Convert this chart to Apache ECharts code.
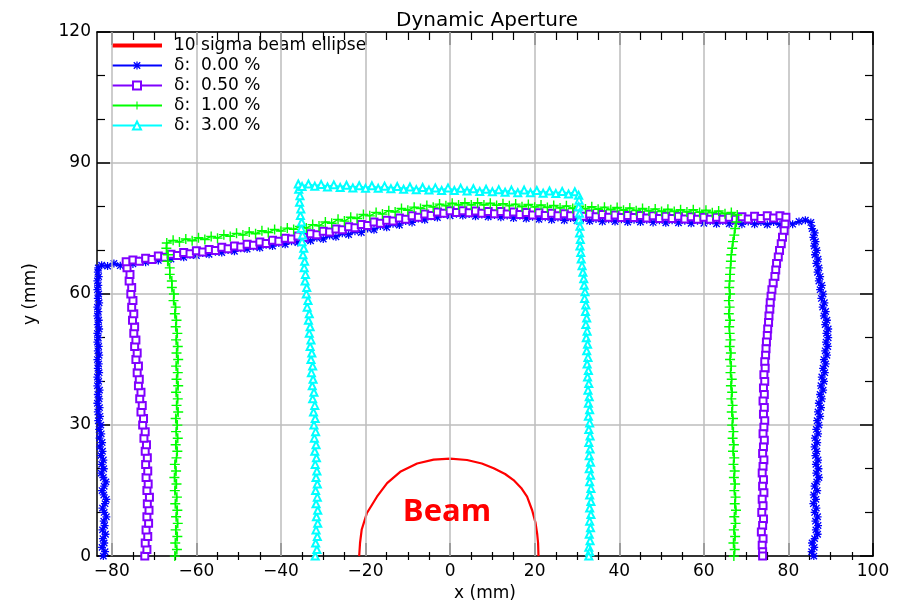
<!DOCTYPE html>
<html>
<head>
<meta charset="utf-8">
<script src="https://cdn.jsdelivr.net/npm/echarts@6/dist/echarts.min.js"></script>
<style>html,body{margin:0;padding:0;background:#fff}#c{width:897px;height:607px}</style>
</head>
<body>
<div id="c"></div>
<script>
const xMajor = [-80,-60,-40,-20,0,20,40,60,80,100];
const xGrid = [-80,-60,-40,-20,0,20,40,60,80];
const xMinor = [-75,-70,-65,-55,-50,-45,-35,-30,-25,-15,-10,-5,5,10,15,25,30,35,45,50,55,65,70,75,85,90,95];
const seriesNames = ['10 sigma beam ellipse','δ:  0.00 %','δ:  0.50 %','δ:  1.00 %','δ:  3.00 %'];

const beamEllipse = [[-21.5,0],[-21.3,3],[-20.9,6.1],[-19.7,9.8],[-17.3,13.6],[-14.9,16.7],[-11.8,19.3],[-7.8,21.2],[-3.9,22.1],[0,22.3],[4,22],[7.5,21.2],[10.3,20.1],[13,18.8],[15,17.4],[16.8,15.6],[18.2,13.6],[19.4,10.5],[20.2,7.6],[20.6,5],[20.8,3],[20.9,0]];

const delta000 = [
[-82.0,0],[-81.6,1],[-82.3,2],[-81.8,3],[-82.1,4],[-81.5,5],[-82.2,6],[-81.7,7],[-81.9,8],[-81.3,9],[-81.8,10],[-82.2,11],[-81.6,12],[-81.3,13],[-81.9,14],[-82.3,15],[-81.8,16],[-81.4,17],[-82.0,18],[-82.5,19],[-81.9,20],[-82.4,21],[-82.0,22],[-82.6,23],[-82.2,24],[-82.8,25],[-82.3,26],[-82.9,27],[-82.5,28],[-83.0,29],[-82.6,30],[-83.2,31],[-82.8,32],[-83.3,33],[-82.9,34],[-83.4,35],[-83.0,36],[-83.3,37],[-82.9,38],[-83.4,39],[-83.1,40],[-83.4,41],[-83.0,42],[-83.3,43],[-83.1,44],[-83.4,45],[-83.0,46],[-83.3,47],[-83.1,48],[-83.4,49],[-83.2,50],[-83.4,51],[-83.0,52],[-83.3,53],[-83.1,54],[-83.4,55],[-83.2,56],[-83.4,57],[-83.0,58],[-83.3,59],[-83.1,60],[-83.4,61],[-83.2,62],[-83.4,63],[-83.1,64],[-83.3,65],[-83.2,66],[-82.4,66.6],
[-81,66.4],[-79.5,67.0],[-78,66.5],[-76.5,67.2],[-75,66.9],[-73.5,67.6],[-72,67.3],[-70.5,67.9],[-69,67.7],[-67.5,68.3],[-66,68.0],[-64.5,68.7],[-63,68.4],[-61.5,69.0],[-60,68.8],[-58.5,69.4],[-57,69.1],[-55.5,69.7],[-54,69.5],[-52.5,70.1],[-51,69.8],[-49.5,70.5],[-48,70.3],[-46.5,70.9],[-45,70.6],[-43.5,71.3],[-42,71.0],[-40.5,71.7],[-39,71.4],[-37.5,72.1],[-36,71.8],[-34.5,72.5],[-33,72.2],[-31.5,72.9],[-30,72.6],[-28.5,73.4],[-27,73.1],[-25.5,73.9],[-24,73.6],[-22.5,74.4],[-21,74.1],[-19.5,75.0],[-18,74.7],[-16.5,75.6],[-15,75.3],[-13.5,76.1],[-12,75.8],[-10.5,76.7],[-9,76.4],[-7.5,77.3],[-6,77.0],[-4.5,77.8],[-3,77.5],[-1.5,78.3],[0,77.9],[1.5,78.4],[3,78.0],[4.5,78.3],[6,77.8],[7.5,78.2],[9,77.7],[10.5,78.1],[12,77.6],[13.5,78.0],[15,77.4],[16.5,77.9],[18,77.3],[19.5,77.7],[21,77.1],[22.5,77.6],[24,77.0],[25.5,77.5],[27,76.9],[28.5,77.4],[30,76.8],[31.5,77.3],[33,76.7],[34.5,77.2],[36,76.6],[37.5,77.1],[39,76.6],[40.5,77.1],[42,76.5],[43.5,77.0],[45,76.5],[46.5,77.0],[48,76.4],[49.5,76.9],[51,76.3],[52.5,76.9],[54,76.3],[55.5,76.8],[57,76.2],[58.5,76.8],[60,76.2],[61.5,76.7],[63,76.1],[64.5,76.7],[66,76.1],[67.5,76.6],[69,76.0],[70.5,76.6],[72,76.0],[73.5,76.5],[75,75.9],[76.5,76.5],[78,75.9],[79.5,76.4],[81,76.0],[82.5,76.6],[84,76.9],[85.3,76.4],
[85.6,75],[86.2,74],[85.9,73],[86.4,72],[86.1,71],[86.7,70],[86.3,69],[87.0,68],[86.6,67],[87.2,66],[86.9,65],[87.5,64],[87.2,63],[87.9,62],[87.5,61],[88.2,60],[87.8,59],[88.5,58],[88.1,57],[88.8,56],[88.4,55],[89.1,54],[88.7,53],[89.4,52],[89.0,51],[89.4,50],[88.9,49],[89.3,48],[88.7,47],[89.1,46],[88.4,45],[88.8,44],[88.2,43],[88.6,42],[87.9,41],[88.4,40],[87.7,39],[88.2,38],[87.5,37],[87.9,36],[87.2,35],[87.7,34],[87.0,33],[87.5,32],[86.8,31],[87.2,30],[86.6,29],[87.0,28],[86.3,27],[86.8,26],[86.2,25],[86.7,24],[86.4,23],[87.0,22],[86.5,21],[87.1,20],[86.6,19],[87.2,18],[86.7,17],[86.2,16],[86.8,15],[86.0,14],[86.5,13],[85.9,12],[86.6,11],[86.2,10],[86.9,9],[86.4,8],[87.0,7],[86.5,6],[86.9,5],[86.2,4],[85.6,3],[86.1,2],[85.5,1],[86.0,0]
];

const delta050 = [
[-72.2,0],[-71.7,1.5],[-72.1,3],[-71.5,4.5],[-71.9,6],[-71.3,7.5],[-71.7,9],[-71.2,10.5],[-71.6,12],[-71.1,13.5],[-71.7,15],[-71.4,16.5],[-71.9,18],[-71.5,19.5],[-72.0,21],[-71.6,22.5],[-72.1,24],[-71.8,25.5],[-72.4,27],[-72.1,28.5],[-72.7,30],[-72.5,31.5],[-73.1,33],[-72.8,34.5],[-73.4,36],[-73.1,37.5],[-73.7,39],[-73.5,40.5],[-74.0,42],[-73.7,43.5],[-74.3,45],[-74.0,46.5],[-74.6,48],[-74.3,49.5],[-74.8,51],[-74.6,52.5],[-75.1,54],[-74.8,55.5],[-75.3,57],[-75.0,58.5],[-75.5,60],[-75.3,61.5],[-75.9,63],[-75.7,64.5],[-76.4,66],[-76.6,67.4],
[-75,67.8],[-73.5,67.5],[-72,68.2],[-70.5,67.9],[-69,68.7],[-67.5,68.4],[-66,69.1],[-64.5,68.8],[-63,69.5],[-61.5,69.2],[-60,69.9],[-58.5,69.6],[-57,70.2],[-55.5,70.0],[-54,70.7],[-52.5,70.4],[-51,71.0],[-49.5,70.8],[-48,71.4],[-46.5,71.2],[-45,71.9],[-43.5,71.6],[-42,72.3],[-40.5,72.1],[-39,72.8],[-37.5,72.6],[-36,73.3],[-34.5,73.0],[-33,73.8],[-31.5,73.6],[-30,74.4],[-28.5,74.2],[-27,74.9],[-25.5,74.7],[-24,75.4],[-22.5,75.2],[-21,75.9],[-19.5,75.7],[-18,76.5],[-16.5,76.2],[-15,76.9],[-13.5,76.7],[-12,77.4],[-10.5,77.1],[-9,77.9],[-7.5,77.6],[-6,78.3],[-4.5,78.0],[-3,78.8],[-1.5,78.5],[0,79.1],[1.5,78.7],[3,79.1],[4.5,78.6],[6,79.0],[7.5,78.5],[9,78.9],[10.5,78.4],[12,78.9],[13.5,78.3],[15,78.8],[16.5,78.2],[18,78.7],[19.5,78.1],[21,78.6],[22.5,78.0],[24,78.5],[25.5,77.9],[27,78.4],[28.5,77.9],[30,78.4],[31.5,77.8],[33,78.3],[34.5,77.7],[36,78.2],[37.5,77.6],[39,78.1],[40.5,77.5],[42,78.0],[43.5,77.5],[45,78.0],[46.5,77.4],[48,77.9],[49.5,77.3],[51,77.8],[52.5,77.3],[54,77.8],[55.5,77.2],[57,77.7],[58.5,77.1],[60,77.6],[61.5,77.1],[63,77.6],[64.5,77.1],[66,77.6],[67.5,77.1],[69,77.7],[70.5,77.2],[72,77.8],[73.5,77.3],[75,77.9],[76.5,77.4],[78,77.9],[79.4,77.6],
[79.2,76],[79.0,74.5],[78.6,73],[78.3,71.5],[77.9,70],[77.6,68.5],[77.2,67],[77.0,65.5],[76.8,64],[76.4,62.5],[76.1,61],[75.9,59.5],[75.7,58],[75.6,56.5],[75.4,55],[75.3,53.5],[75.1,52],[75.0,50.5],[74.8,49],[74.7,47.5],[74.6,46],[74.4,44.5],[74.5,43],[74.2,41.5],[74.4,40],[74.1,38.5],[74.3,37],[74.0,35.5],[74.3,34],[74.1,32.5],[74.4,31],[74.2,29.5],[74.0,28],[74.3,26.5],[74.1,25],[73.9,23.5],[74.2,22],[74.0,20.5],[73.8,19],[74.1,17.5],[73.9,16],[74.2,14.5],[73.8,13],[74.0,11.5],[73.7,10],[74.1,8.5],[73.9,7],[73.6,5.5],[74.0,4],[73.8,2.5],[73.9,1],[73.9,0]
];

const delta100 = [
[-65.1,0],[-64.6,1.5],[-65.0,3],[-64.5,4.5],[-64.9,6],[-64.4,7.5],[-64.8,9],[-64.5,10.5],[-65.0,12],[-64.6,13.5],[-65.1,15],[-64.7,16.5],[-65.2,18],[-64.8,19.5],[-65.1,21],[-64.7,22.5],[-64.5,24],[-64.9,25.5],[-64.4,27],[-64.8,28.5],[-64.5,30],[-64.9,31.5],[-64.3,33],[-64.7,34.5],[-64.4,36],[-64.8,37.5],[-64.3,39],[-64.7,40.5],[-64.4,42],[-64.8,43.5],[-64.3,45],[-64.7,46.5],[-64.4,48],[-64.8,49.5],[-64.5,51],[-64.9,52.5],[-64.7,54],[-65.1,55.5],[-64.9,57],[-65.4,58.5],[-65.3,60],[-65.8,61.5],[-65.8,63],[-66.3,64.5],[-66.3,66],[-66.8,67.5],[-66.7,69],[-67.1,70.5],[-67.0,71.7],
[-65.5,72.3],[-64,71.9],[-62.5,72.6],[-61,72.2],[-59.5,72.9],[-58,72.5],[-56.5,73.2],[-55,72.8],[-53.5,73.6],[-52,73.2],[-50.5,73.9],[-49,73.5],[-47.5,74.2],[-46,73.8],[-44.5,74.5],[-43,74.1],[-41.5,74.8],[-40,74.4],[-38.5,75.1],[-37,74.8],[-35.5,75.5],[-34,75.1],[-32.5,75.9],[-31,75.6],[-29.5,76.5],[-28,76.2],[-26.5,77.1],[-25,76.7],[-23.5,77.6],[-22,77.3],[-20.5,78.2],[-19,77.9],[-17.5,78.7],[-16,78.3],[-14.5,79.1],[-13,78.8],[-11.5,79.6],[-10,79.2],[-8.5,79.9],[-7,79.6],[-5.5,80.3],[-4,79.9],[-2.5,80.6],[-1,80.2],[0.5,80.8],[2,80.4],[3.5,80.9],[5,80.4],[6.5,80.9],[8,80.4],[9.5,80.8],[11,80.3],[12.5,80.7],[14,80.2],[15.5,80.6],[17,80.0],[18.5,80.5],[20,79.9],[21.5,80.4],[23,79.8],[24.5,80.3],[26,79.7],[27.5,80.2],[29,79.6],[30.5,80.1],[32,79.5],[33.5,80.0],[35,79.4],[36.5,79.9],[38,79.3],[39.5,79.8],[41,79.2],[42.5,79.7],[44,79.1],[45.5,79.6],[47,79.0],[48.5,79.5],[50,78.9],[51.5,79.4],[53,78.9],[54.5,79.3],[56,78.8],[57.5,79.3],[59,78.7],[60.5,79.2],[62,78.6],[63.5,79.0],[65,78.4],[66.5,78.7],[67.9,78.1],
[67.7,76.5],[67.4,75],[67.2,73.5],[66.9,72],[66.7,70.5],[66.5,69],[66.4,67.5],[66.3,66],[66.2,64.5],[66.1,63],[66.0,61.5],[66.2,60],[65.9,58.5],[66.1,57],[65.9,55.5],[66.2,54],[66.0,52.5],[66.1,51],[66.3,49.5],[66.1,48],[66.4,46.5],[66.2,45],[66.5,43.5],[66.3,42],[66.6,40.5],[66.4,39],[66.7,37.5],[66.5,36],[66.8,34.5],[66.6,33],[66.9,31.5],[66.7,30],[67.0,28.5],[66.8,27],[67.1,25.5],[66.9,24],[67.2,22.5],[67.0,21],[67.3,19.5],[67.1,18],[67.4,16.5],[67.2,15],[67.5,13.5],[67.3,12],[67.6,10.5],[67.2,9],[67.5,7.5],[67.1,6],[67.4,4.5],[67.0,3],[67.3,1.5],[67.1,0]
];

const delta300 = [
[-31.9,0],[-31.5,1.5],[-31.8,3],[-31.4,4.5],[-31.7,6],[-31.3,7.5],[-31.6,9],[-31.3,10.5],[-31.7,12],[-31.4,13.5],[-31.8,15],[-31.4,16.5],[-31.7,18],[-31.5,19.5],[-31.9,21],[-31.6,22.5],[-32.0,24],[-31.7,25.5],[-32.1,27],[-31.8,28.5],[-32.2,30],[-31.9,31.5],[-32.3,33],[-32.0,34.5],[-32.5,36],[-32.2,37.5],[-32.6,39],[-32.4,40.5],[-32.8,42],[-32.5,43.5],[-32.9,45],[-32.7,46.5],[-33.1,48],[-32.9,49.5],[-33.3,51],[-33.1,52.5],[-33.5,54],[-33.3,55.5],[-33.8,57],[-33.6,58.5],[-34.0,60],[-33.9,61.5],[-34.3,63],[-34.2,64.5],[-34.5,66],[-34.4,67.5],[-34.8,69],[-34.6,70.5],[-35.0,72],[-34.9,73.5],[-35.2,75],[-35.1,76.5],[-35.4,78],[-35.3,79.5],[-35.6,81],[-35.5,82.5],[-35.8,84],[-35.9,85.2],
[-35,84.6],[-33.5,85.2],[-32,84.7],[-30.5,85.1],[-29,84.5],[-27.5,85.0],[-26,84.4],[-24.5,84.9],[-23,84.3],[-21.5,84.8],[-20,84.2],[-18.5,84.8],[-17,84.2],[-15.5,84.7],[-14,84.1],[-12.5,84.6],[-11,84.0],[-9.5,84.5],[-8,83.9],[-6.5,84.4],[-5,83.8],[-3.5,84.3],[-2,83.7],[-0.5,84.3],[1,83.7],[2.5,84.2],[4,83.6],[5.5,84.1],[7,83.5],[8.5,84.0],[10,83.4],[11.5,83.9],[13,83.3],[14.5,83.8],[16,83.2],[17.5,83.8],[19,83.2],[20.5,83.7],[22,83.1],[23.5,83.6],[25,83.0],[26.5,83.5],[28,82.9],[29.5,83.4],[30.4,82.6],
[30.5,81.5],[30.4,80],[30.6,78.5],[30.5,77],[30.7,75.5],[30.6,74],[30.8,72.5],[30.7,71],[30.9,69.5],[31.0,68],[31.2,66.5],[31.4,65],[31.6,63.5],[31.7,62],[31.9,60.5],[31.8,59],[32.1,57.5],[32.0,56],[32.3,54.5],[32.1,53],[32.4,51.5],[32.2,50],[32.5,48.5],[32.3,47],[32.6,45.5],[32.4,44],[32.7,42.5],[32.5,41],[32.8,39.5],[32.6,38],[32.9,36.5],[32.7,35],[33.0,33.5],[32.7,32],[33.0,30.5],[32.8,29],[33.1,27.5],[32.8,26],[33.1,24.5],[32.9,23],[33.2,21.5],[32.9,20],[33.2,18.5],[33.0,17],[33.3,15.5],[33.0,14],[33.3,12.5],[33.0,11],[33.3,9.5],[33.0,8],[33.2,6.5],[32.9,5],[33.1,3.5],[32.8,2],[33.0,1],[32.8,0]
];

const FONT = 'DejaVu Sans';
const starPath = 'path://M4.2,0H5.8V10H4.2Z M0,4.2H10V5.8H0Z M0.4,1.6L1.6,0.4L9.6,8.4L8.4,9.6Z M8.4,0.4L9.6,1.6L1.6,9.6L0.4,8.4Z';
const plusPath = 'path://M4.3,0H5.7V10H4.3Z M0,4.3H10V5.7H0Z';
const minusFmt = v => String(v).replace('-', '\u2212');

const chart = echarts.init(document.getElementById('c'), null, {renderer: 'canvas'});
const gridBox = {left: 97, right: 24, top: 32, bottom: 47};
const axisLine = {show: true, onZero: false, lineStyle: {color: '#000', width: 1.5}};
const noLine = {show: false, onZero: false};
const majorTick = {show: true, inside: true, length: 13, customValues: xMajor, lineStyle: {color: '#000', width: 1.5}};
const minorTickX = {show: true, inside: true, length: 8, customValues: xMinor, lineStyle: {color: '#000', width: 1.2}};
const yMajorTick = {show: true, inside: true, length: 13, lineStyle: {color: '#000', width: 1.5}};
const yMinorTick = {show: true, splitNumber: 3, length: 8, lineStyle: {color: '#000', width: 1.2}};
const labelStyle = {color: '#000', fontSize: 17, fontFamily: FONT};
const transparent = 'rgba(0,0,0,0)';

chart.setOption({
  animation: false,
  backgroundColor: '#fff',
  title: {text: 'Dynamic Aperture', left: 391, top: 6, textStyle: {fontFamily: FONT, fontSize: 20, fontWeight: 'normal', color: '#000'}},
  grid: [Object.assign({}, gridBox), Object.assign({}, gridBox)],
  legend: {
    data: [
      {name: seriesNames[0], itemStyle: {color: transparent, borderColor: transparent, borderWidth: 0}, lineStyle: {width: 4, color: '#ff0000'}},
      {name: seriesNames[1]}, {name: seriesNames[2]}, {name: seriesNames[3]}, {name: seriesNames[4]}
    ],
    orient: 'vertical', left: 105, top: 32, itemWidth: 50, itemHeight: 10, itemGap: 3,
    selectedMode: false, textStyle: {fontFamily: FONT, fontSize: 17, color: '#000', padding: [0, 0, 0, 7]}
  },
  xAxis: [
    {gridIndex: 0, type: 'value', min: -83.5, max: 100, position: 'bottom', axisLine: axisLine, axisTick: majorTick,
     axisLabel: Object.assign({customValues: xMajor, formatter: minusFmt, margin: 7}, labelStyle), splitLine: {show: false},
     name: 'x (mm)', nameLocation: 'middle', nameGap: 27, nameTextStyle: labelStyle},
    {gridIndex: 0, type: 'value', min: -83.5, max: 100, position: 'top', axisLine: axisLine, axisTick: majorTick,
     axisLabel: {show: false}, splitLine: {show: false}},
    {gridIndex: 1, type: 'value', min: -83.5, max: 100, position: 'bottom', axisLine: noLine, axisTick: minorTickX,
     axisLabel: {show: false}, splitLine: {show: false}},
    {gridIndex: 1, type: 'value', min: -83.5, max: 100, position: 'top', axisLine: noLine, axisTick: minorTickX,
     axisLabel: {show: false}, splitLine: {show: false}}
  ],
  yAxis: [
    {gridIndex: 0, type: 'value', min: 0, max: 120, interval: 30, position: 'left', axisLine: axisLine,
     axisTick: yMajorTick, minorTick: yMinorTick,
     axisLabel: Object.assign({margin: 6}, labelStyle),
     splitLine: {show: true, lineStyle: {color: '#bdbdbd', width: 1.5}},
     name: 'y (mm)', nameLocation: 'middle', nameGap: 58, nameRotate: 90, nameTextStyle: labelStyle},
    {gridIndex: 0, type: 'value', min: 0, max: 120, interval: 30, position: 'right', axisLine: axisLine,
     axisTick: yMajorTick, minorTick: yMinorTick,
     axisLabel: {show: false}, splitLine: {show: false}},
    {gridIndex: 1, type: 'value', min: 0, max: 120, show: false, axisLine: noLine}
  ],
  graphic: [{type: 'text', x: 447, y: 512, z: 100,
    style: {text: 'Beam', fill: '#ff0000', font: 'bold 31px "Open Sans"', align: 'center', verticalAlign: 'middle'}}],
  series: [
    {type: 'line', name: 'gridlines', xAxisIndex: 0, yAxisIndex: 0, data: [], z: 0, silent: true,
     markLine: {silent: true, symbol: 'none', label: {show: false}, animation: false,
       lineStyle: {color: '#bdbdbd', width: 1.5, type: 'solid'}, emphasis: {disabled: true},
       data: xGrid.map(v => ({xAxis: v}))}},
    {type: 'line', name: seriesNames[0], data: beamEllipse, symbol: 'none', z: 3,
     lineStyle: {color: '#ff0000', width: 2.2}, itemStyle: {color: '#ff0000'}},
    {type: 'line', name: seriesNames[1], data: delta000, symbol: starPath, symbolSize: 8, z: 4,
     lineStyle: {color: '#0000ff', width: 1.5}, itemStyle: {color: '#0000ff'}},
    {type: 'line', name: seriesNames[2], data: delta050, symbol: 'emptyRect', symbolSize: 7, z: 5,
     lineStyle: {color: '#8000ff', width: 1.5}, itemStyle: {color: '#8000ff', borderWidth: 1.4}},
    {type: 'line', name: seriesNames[3], data: delta100, symbol: plusPath, symbolSize: 10, z: 6,
     lineStyle: {color: '#00ff00', width: 1.5}, itemStyle: {color: '#00ff00'}},
    {type: 'line', name: seriesNames[4], data: delta300, symbol: 'emptyTriangle', symbolSize: 7, z: 7,
     lineStyle: {color: '#00ffff', width: 2}, itemStyle: {color: '#00ffff', borderWidth: 1.5}}
  ]
});
</script>
</body>
</html>
